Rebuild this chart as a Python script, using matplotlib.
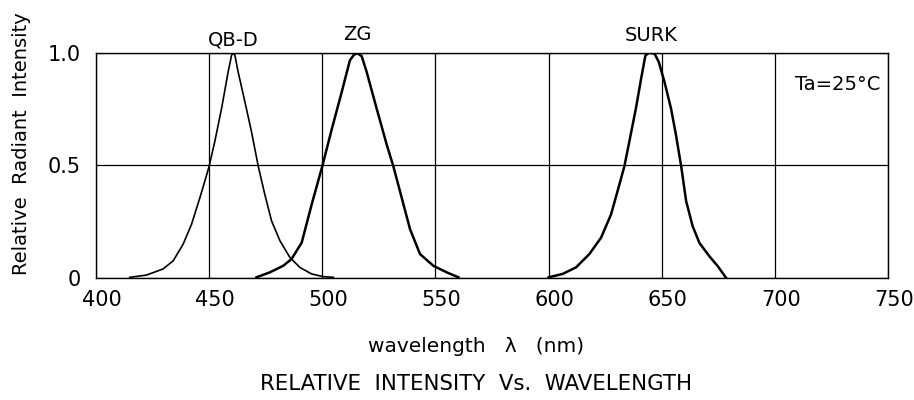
import matplotlib
matplotlib.use("Agg")
import matplotlib.pyplot as plt
from matplotlib.transforms import ScaledTranslation

# ---- data ----
qbd_wl = [414.9, 422.3, 429.6, 434.1, 438.5, 442.2, 445.9, 448.5, 450.0, 452.5, 455.5,
          458.4, 459.9, 460.6, 461.4, 462.8, 465.8, 468.7, 471.7, 474.6, 477.6, 481.3,
          485.7, 490.1, 495.3, 500.4, 504.9]
qbd_val = [0.003, 0.013, 0.040, 0.076, 0.150, 0.238, 0.356, 0.444, 0.496, 0.606, 0.753,
           0.915, 0.988, 1.000, 0.988, 0.915, 0.782, 0.650, 0.496, 0.371, 0.253, 0.165,
           0.091, 0.047, 0.018, 0.006, 0.003]

zg_wl = [470.9, 476.8, 482.7, 486.4, 490.9, 495.3, 500.0, 504.1, 508.6, 512.2, 514.0,
         515.5, 517.4, 519.6, 524.0, 528.5, 531.4, 535.1, 538.8, 543.2, 549.1, 555.0, 560.2]
zg_val = [0.003, 0.025, 0.054, 0.084, 0.157, 0.326, 0.496, 0.657, 0.826, 0.966, 0.991,
          0.997, 0.985, 0.915, 0.753, 0.591, 0.496, 0.356, 0.216, 0.106, 0.054, 0.025, 0.003]

surk_wl = [600.0, 606.2, 612.1, 618.0, 623.2, 627.6, 631.3, 633.5, 635.7, 638.6, 640.9,
           642.8, 644.5, 646.8, 648.7, 651.2, 654.1, 656.3, 658.6, 660.8, 663.7, 666.7,
           671.1, 674.8, 678.5]
surk_val = [0.003, 0.018, 0.047, 0.106, 0.179, 0.282, 0.415, 0.496, 0.606, 0.753, 0.885,
            0.988, 1.000, 0.996, 0.959, 0.871, 0.753, 0.635, 0.496, 0.341, 0.229, 0.155,
            0.096, 0.052, 0.000]

series_names = ["QB-D", "ZG", "SURK"]
x_ticks = [400, 450, 500, 550, 600, 650, 700, 750]
x_tick_labels = ["400", "450", "500", "550", "600", "650", "700", "750"]
y_ticks = [0, 0.5, 1.0]
y_tick_labels = ["0", "0.5", "1.0"]

plt.rcParams['font.family'] = ['DejaVu Sans']

fig = plt.figure(figsize=(9.14, 4.0), dpi=100)
ax = fig.add_axes([96/914, 1 - 278/400, (888 - 96)/914, (278 - 52.7)/400])

ax.plot(qbd_wl, qbd_val, color='black', lw=1.2, solid_joinstyle='round')
ax.plot(zg_wl, zg_val, color='black', lw=1.8, solid_joinstyle='round')
ax.plot(surk_wl, surk_val, color='black', lw=1.8, solid_joinstyle='round')

ax.set_xlim(400, 750)
ax.set_ylim(0, 1.0)
ax.set_xticks(x_ticks, x_tick_labels)
ax.set_yticks(y_ticks, y_tick_labels)
ax.tick_params(axis='both', length=0, labelsize=15)
ax.tick_params(axis='x', pad=9)
ax.tick_params(axis='y', pad=11)
for lab in ax.get_xticklabels():
    lab.set_transform(lab.get_transform() + ScaledTranslation(6/100, 0, fig.dpi_scale_trans))

ax.grid(True, color='black', lw=0.9)
ax.set_axisbelow(True)
for s in ax.spines.values():
    s.set_linewidth(1.0)
    s.set_color('black')

# series labels above peaks
ax.text(460.6, 1.030, series_names[0], ha='center', va='baseline', fontsize=14)
ax.text(515.3, 1.055, series_names[1], ha='center', va='baseline', fontsize=14)
ax.text(645.5, 1.050, series_names[2], ha='center', va='baseline', fontsize=14)
ax.text(0.99, 0.834, "Ta=25°C", transform=ax.transAxes, ha='right', va='baseline', fontsize=14)

fig.text(22/914, 1 - 144/400, "Relative  Radiant  Intensity", rotation=90,
         ha='center', va='center', fontsize=14)
fig.text(476/914, 1 - 347/400, "wavelength   λ   (nm)", ha='center', va='center', fontsize=14.5)
fig.text(476/914, 1 - 384/400, "RELATIVE  INTENSITY  Vs.  WAVELENGTH", ha='center',
         va='center', fontsize=15.3)

fig.savefig("out.png", dpi=100)
